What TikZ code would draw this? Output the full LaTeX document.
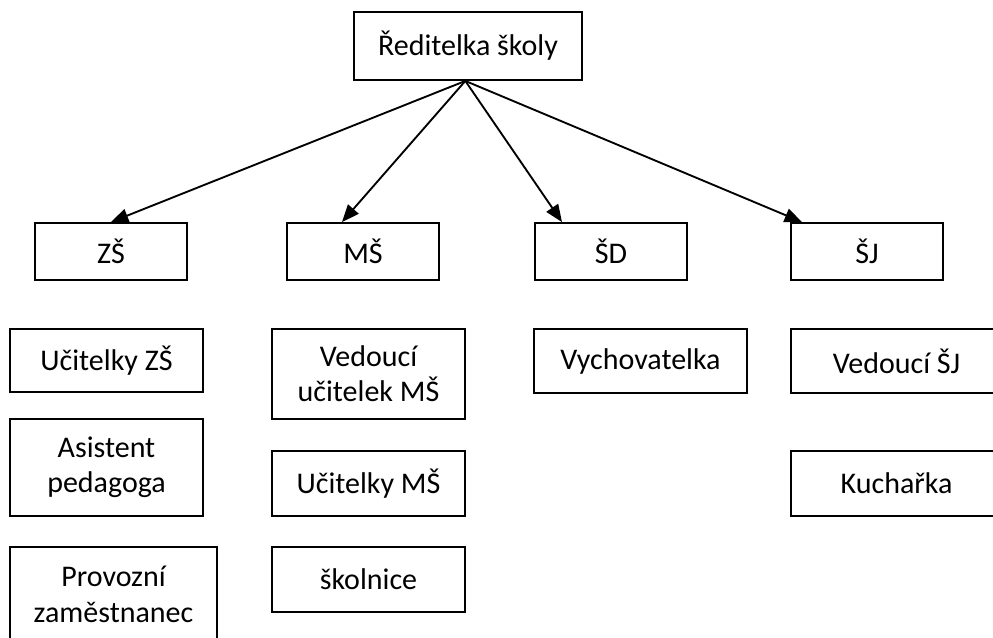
\documentclass[tikz,border=0pt]{standalone}
\usepackage{fontspec}
\setmainfont{Carlito}
\usetikzlibrary{arrows.meta}

\begin{document}
\begin{tikzpicture}[x=.75pt, y=-.75pt,
	box/.style={draw, line width=1.4pt, inner sep=0pt, align=center,
		font=\fontsize{22.5}{26.5}\selectfont},
	arr/.style={-{Triangle[length=13pt, width=10.5pt]}, line width=1.4pt}]
	\useasboundingbox (0, 0) rectangle (993, 637);

	% \orgbox#name#x#y#width#height#text
	\def\orgbox#1#2#3#4#5#6{
		\node[box, minimum width=#4*.75pt, minimum height=#5*.75pt] (#1) at (#2, #3) {#6};
	}

	% head
	\orgbox{head}{468}{46}{228}{68}{Ředitelka školy}

	% departments
	\orgbox{zs}{111}{251.5}{152}{57}{ZŠ}
	\orgbox{ms}{363}{251.5}{152}{57}{MŠ}
	\orgbox{sd}{611}{251.5}{152}{57}{ŠD}
	\orgbox{sj}{867}{251.5}{152}{57}{ŠJ}

	% staff
	\orgbox{uczs}{106.5}{360.5}{193}{63}{Učitelky ZŠ}
	\orgbox{asist}{106.5}{467.5}{193}{97}{Asistent\\pedagoga}
	\orgbox{prov}{113.5}{594.5}{207}{95}{Provozní\\zaměstnanec}
	\orgbox{vedms}{368.5}{374}{193}{90}{Vedoucí\\učitelek MŠ}
	\orgbox{ucms}{368.5}{483.5}{193}{65}{Učitelky MŠ}
	\orgbox{skol}{368.5}{579.5}{193}{65}{školnice}
	\orgbox{vych}{640.5}{361}{213}{64}{Vychovatelka}
	\orgbox{vedsj}{896.5}{361}{211}{64}{Vedoucí ŠJ}
	\orgbox{kuch}{896.5}{483.5}{211}{65}{Kuchařka}

	\draw[arr] ([xshift=-2pt]head.south) -- (zs.north);
	\draw[arr] ([xshift=-2pt]head.south) -- ([xshift=-15.75pt]ms.north);
	\draw[arr] ([xshift=-2pt]head.south) -- ([xshift=-36.75pt]sd.north);
	\draw[arr] ([xshift=-2pt]head.south) -- ([xshift=-48.75pt]sj.north);
\end{tikzpicture}
\end{document}
